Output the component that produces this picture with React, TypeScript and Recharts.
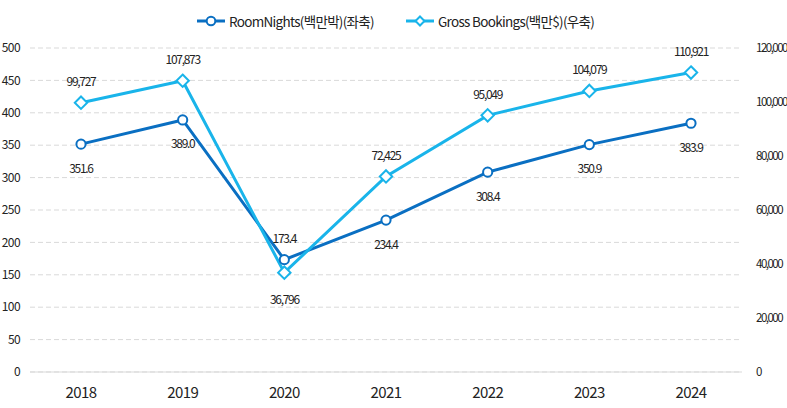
import React from 'react';
import { LineChart, Line, XAxis, YAxis, CartesianGrid, LabelList } from 'recharts';

const years = ['2018', '2019', '2020', '2021', '2022', '2023', '2024'];
const roomNights = [351.6, 389.0, 173.4, 234.4, 308.4, 350.9, 383.9];
const grossBookings = [99727, 107873, 36796, 72425, 95049, 104079, 110921];
const leftTicks = [0, 50, 100, 150, 200, 250, 300, 350, 400, 450, 500];
const rightTicks = [0, 20000, 40000, 60000, 80000, 100000, 120000];
const seriesNames = ['RoomNights(백만박)(좌축)', 'Gross Bookings(백만$)(우축)'];

const LEFT_MAX = 500;
const RIGHT_MAX = 120000;

const data = years.map((y, i) => ({ year: y, rn: roomNights[i], gb: grossBookings[i] }));

const DARK = '#0A6FC2';
const LIGHT = '#19B4EA';
const FONT = '"Noto Sans CJK KR", "Noto Sans", sans-serif';

const fmtComma = (v: number) => v.toLocaleString('en-US');

const CircleDot = (props: any) => {
  const { cx, cy, index } = props;
  if (cx == null || cy == null) return null;
  return <circle key={`c${index}`} cx={cx} cy={cy} r={4.6} fill="#fff" stroke={DARK} strokeWidth={2} />;
};

const DiamondDot = (props: any) => {
  const { cx, cy, index } = props;
  if (cx == null || cy == null) return null;
  const s = 6.2;
  return (
    <path
      key={`d${index}`}
      d={`M${cx},${cy - s}L${cx + s},${cy}L${cx},${cy + s}L${cx - s},${cy}Z`}
      fill="#fff"
      stroke={LIGHT}
      strokeWidth={2}
    />
  );
};

const labelStyle = {
  fontSize: 12,
  letterSpacing: -1.3,
  fill: '#222',
  fontFamily: FONT,
};

const rnLabel = (props: any) => {
  const { x, y, index, value } = props;
  const above = roomNights[index] / LEFT_MAX > grossBookings[index] / RIGHT_MAX;
  const ty = above ? y - 22 : y + 23;
  return (
    <text key={`rl${index}`} x={x} y={ty} textAnchor="middle" dominantBaseline="central" {...labelStyle}>
      {Number(value).toFixed(1)}
    </text>
  );
};

const gbLabel = (props: any) => {
  const { x, y, index, value } = props;
  const below = roomNights[index] / LEFT_MAX > grossBookings[index] / RIGHT_MAX;
  const ty = below ? y + 26 : y - 22;
  return (
    <text key={`gl${index}`} x={x} y={ty} textAnchor="middle" dominantBaseline="central" {...labelStyle}>
      {fmtComma(Number(value))}
    </text>
  );
};

const LegendItem = ({ kind, color, label, left }: any) => (
  <div
    style={{
      position: 'absolute',
      left,
      top: 10,
      height: 22,
      display: 'flex',
      alignItems: 'center',
      fontFamily: FONT,
      fontSize: 13.5,
      letterSpacing: -0.7,
      color: '#222',
      whiteSpace: 'nowrap',
    }}
  >
    <svg width={30} height={14} style={{ marginRight: 2 }}>
      <line x1={0} y1={7} x2={28} y2={7} stroke={color} strokeWidth={3} />
      {kind === 'circle' ? (
        <circle cx={14} cy={7} r={4.3} fill="#fff" stroke={color} strokeWidth={2} />
      ) : (
        <path d="M14,2.5L18.5,7L14,11.5L9.5,7Z" fill="#fff" stroke={color} strokeWidth={2} />
      )}
    </svg>
    <span>{label}</span>
  </div>
);

export default function App() {
  return (
    <div style={{ position: 'absolute', left: 0, top: 0, width: 787, height: 408, background: '#fff' }}>
      <LegendItem kind="circle" color={DARK} label={seriesNames[0]} left={197} />
      <LegendItem kind="diamond" color={LIGHT} label={seriesNames[1]} left={406} />
      <LineChart
        width={787}
        height={408}
        data={data}
        margin={{ top: 48, right: 0, left: 0, bottom: 0 }}
        style={{ position: 'absolute', left: 0, top: 0 }}
      >
        <CartesianGrid yAxisId="left" vertical={false} stroke="#d9d9d9" strokeDasharray="5 3" />
        <XAxis
          dataKey="year"
          height={36}
          padding={{ left: 51, right: 51 }}
          axisLine={{ stroke: '#d9d9d9' }}
          tickLine={false}
          tickMargin={9}
          tick={{ fontSize: 15, fill: '#222', fontFamily: FONT, letterSpacing: -0.6 }}
        />
        <YAxis
          yAxisId="left"
          orientation="left"
          width={30}
          domain={[0, LEFT_MAX]}
          ticks={leftTicks}
          axisLine={false}
          tickLine={false}
          tickMargin={4}
          tick={{ fontSize: 12, fill: '#222', fontFamily: FONT, letterSpacing: -0.6 }}
        />
        <YAxis
          yAxisId="right"
          orientation="right"
          width={45}
          domain={[0, RIGHT_MAX]}
          ticks={rightTicks}
          axisLine={false}
          tickLine={false}
          tickMargin={8}
          tickFormatter={(v: number) => fmtComma(v)}
          tick={{ fontSize: 11.5, fill: '#222', fontFamily: FONT, letterSpacing: -1.5 }}
        />
        <Line
          yAxisId="left"
          dataKey="rn"
          stroke={DARK}
          strokeWidth={3}
          dot={CircleDot}
          activeDot={false}
          isAnimationActive={false}
        >
          <LabelList dataKey="rn" content={rnLabel} />
        </Line>
        <Line
          yAxisId="right"
          dataKey="gb"
          stroke={LIGHT}
          strokeWidth={3}
          dot={DiamondDot}
          activeDot={false}
          isAnimationActive={false}
        >
          <LabelList dataKey="gb" content={gbLabel} />
        </Line>
      </LineChart>
    </div>
  );
}
